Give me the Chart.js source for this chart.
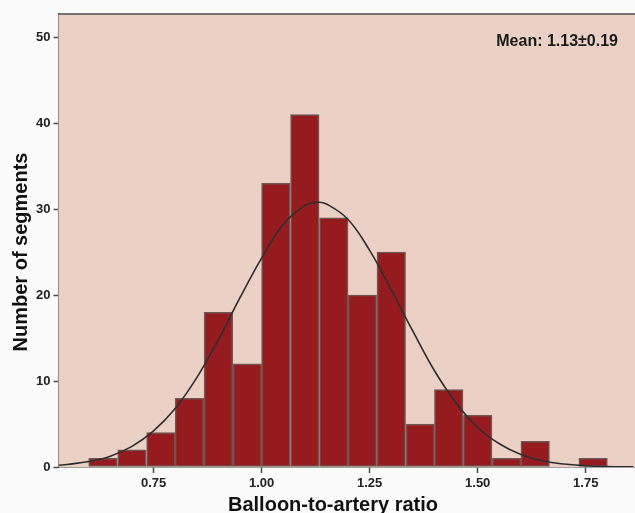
<!DOCTYPE html>
<html>
<head>
<meta charset="utf-8">
<script src="https://cdn.jsdelivr.net/npm/chart.js@4"></script>
<style>
  body { margin: 0; background: #fbfbfb; }
  #wrap { width: 635px; height: 513px; }
</style>
</head>
<body>
<div id="wrap"><canvas id="histChart" width="635" height="513"></canvas></div>
<script>
// bin centres (bins of width 1/15 starting at 0.60)
const binCenters = [0.633, 0.700, 0.767, 0.833, 0.900, 0.967, 1.033, 1.100, 1.167,
                    1.233, 1.300, 1.367, 1.433, 1.500, 1.567, 1.633, 1.700, 1.767];
const segmentCounts = [1, 2, 4, 8, 18, 12, 33, 41, 29, 20, 25, 5, 9, 6, 1, 3, 0, 1];

// normal curve
const curveX = [0.53, 0.55, 0.60, 0.65, 0.70, 0.75, 0.80, 0.85, 0.90, 0.95, 1.00, 1.05, 1.10, 1.13,
                1.15, 1.20, 1.25, 1.30, 1.35, 1.40, 1.45, 1.50, 1.55, 1.60, 1.65, 1.70, 1.75, 1.80, 1.86];
const curveY = [0.2, 0.3, 0.63, 1.26, 2.4, 4.2, 6.8, 10.4, 14.8, 19.7, 24.3, 28.2, 30.4, 30.8,
                30.6, 28.8, 25.2, 20.6, 15.8, 11.2, 7.45, 4.6, 2.7, 1.45, 0.73, 0.34, 0.15, 0.06, 0.02];

const xTicks = [0.75, 1.00, 1.25, 1.50, 1.75];
const yTicks = [0, 10, 20, 30, 40, 50];
const meanLabel = 'Mean: 1.13\u00b10.19';
const xTitle = 'Balloon-to-artery ratio';
const yTitle = 'Number of segments';

const axisColor = '#4a4a4a';
const fontFamily = '"Liberation Sans", Arial, sans-serif';

// Plot background, top frame line, axis titles and the mean label
const plotDecor = {
    id: 'plotDecor',
    beforeDatasetsDraw(chart) {
        const { ctx, chartArea: a } = chart;
        ctx.save();
        ctx.fillStyle = '#ead0c5';
        ctx.fillRect(a.left, a.top, a.right - a.left, a.bottom - a.top);
        ctx.restore();
    },
    afterDraw(chart) {
        const { ctx, chartArea: a } = chart;
        ctx.save();
        ctx.strokeStyle = axisColor;
        ctx.lineWidth = 1.5;
        ctx.beginPath();
        ctx.moveTo(a.left, a.top);
        ctx.lineTo(a.right, a.top);
        ctx.stroke();

        ctx.fillStyle = '#1a1a1a';
        ctx.font = 'bold 16px ' + fontFamily;
        ctx.textAlign = 'right';
        ctx.textBaseline = 'alphabetic';
        ctx.fillText(meanLabel, 618, 46);

        // axis titles
        ctx.fillStyle = '#111';
        ctx.font = 'bold 20px ' + fontFamily;
        ctx.textAlign = 'center';
        ctx.fillText(xTitle, 333, 511);
        ctx.translate(27, 252);
        ctx.rotate(-Math.PI / 2);
        ctx.fillText(yTitle, 0, 0);
        ctx.restore();
    }
};

const ctx = document.getElementById('histChart').getContext('2d');
new Chart(ctx, {
    data: {
        datasets: [{
            type: 'line',
            data: curveX.map((x, i) => ({ x: x, y: curveY[i] })),
            borderColor: '#2e2e2e',
            borderWidth: 1.6,
            pointRadius: 0,
            tension: 0.4,
            fill: false,
            order: 0
        }, {
            type: 'bar',
            data: binCenters.map((x, i) => ({ x: x, y: segmentCounts[i] })),
            backgroundColor: '#961b1f',
            borderColor: '#6e5652',
            borderWidth: 1.5,
            borderSkipped: false,
            barPercentage: 1,
            categoryPercentage: 1,
            order: 1
        }]
    },
    options: {
        responsive: false,
        animation: false,
        layout: { padding: { top: 14, right: 0, left: 0, bottom: 0 } },
        plugins: {
            legend: { display: false },
            tooltip: { enabled: false }
        },
        scales: {
            x: {
                type: 'linear',
                min: 0.53,
                max: 1.864,
                offset: false,
                afterFit: scale => { scale.height = 46; },
                afterBuildTicks: scale => { scale.ticks = xTicks.map(v => ({ value: v })); },
                grid: {
                    offset: false,
                    drawOnChartArea: false,
                    drawTicks: true,
                    tickLength: 6,
                    tickWidth: 1.5,
                    tickColor: axisColor
                },
                border: { display: true, color: axisColor, width: 1.5 },
                ticks: {
                    padding: 3,
                    color: '#222',
                    font: { family: fontFamily, size: 13, weight: 'bold' },
                    callback: v => Number(v).toFixed(2)
                }
            },
            y: {
                type: 'linear',
                min: 0,
                max: 52.7,
                afterFit: scale => { scale.width = 58.5; },
                afterBuildTicks: scale => { scale.ticks = yTicks.map(v => ({ value: v })); },
                grid: {
                    drawOnChartArea: false,
                    drawTicks: true,
                    tickLength: 5,
                    tickWidth: 1.5,
                    tickColor: axisColor
                },
                border: { display: true, color: axisColor, width: 1.5 },
                ticks: {
                    padding: 3,
                    color: '#222',
                    font: { family: fontFamily, size: 13, weight: 'bold' }
                }
            }
        }
    },
    plugins: [plotDecor]
});
</script>
</body>
</html>
